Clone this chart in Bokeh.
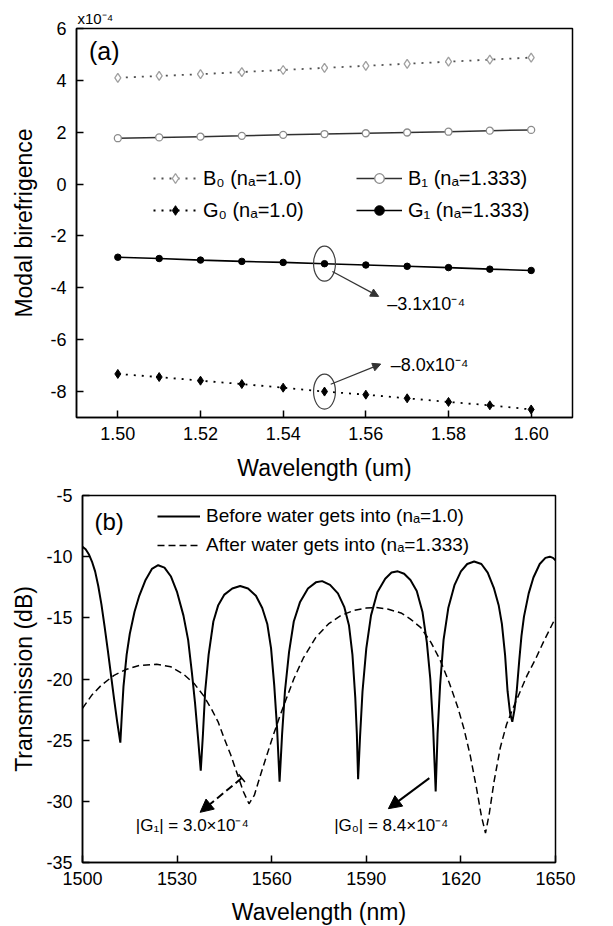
from bokeh.plotting import figure
from bokeh.models import (Range1d, FixedTicker, NumeralTickFormatter, Legend, LegendItem,
                          Label, Arrow, NormalHead, TeeHead, Spacer)
from bokeh.layouts import column, row
from bokeh.embed import file_html
from bokeh.resources import INLINE

FONT = "Liberation Sans"

# ---------------- Panel (a) data ----------------
wavelength_um = [1.50, 1.51, 1.52, 1.53, 1.54, 1.55, 1.56, 1.57, 1.58, 1.59, 1.60]
B0 = [4.10, 4.17, 4.24, 4.32, 4.40, 4.48, 4.56, 4.64, 4.72, 4.80, 4.88]
B1 = [1.77, 1.80, 1.83, 1.86, 1.90, 1.93, 1.96, 1.99, 2.02, 2.06, 2.09]
G0 = [-7.32, -7.44, -7.58, -7.71, -7.85, -8.00, -8.12, -8.26, -8.40, -8.53, -8.69]
G1 = [-2.82, -2.87, -2.93, -2.98, -3.02, -3.07, -3.12, -3.17, -3.22, -3.28, -3.33]
xticks_a = [1.50, 1.52, 1.54, 1.56, 1.58, 1.60]
yticks_a = [-8, -6, -4, -2, 0, 2, 4, 6]

# ---------------- Panel (b) data ----------------
wl_before = [
    1500.0, 1501.0, 1502.0, 1503.0, 1504.0, 1505.0, 1506.0, 1507.0, 1508.0, 1509.0, 1510.0, 1511.0, 1512.0,
    1512.5, 1513.0, 1514.0, 1515.0, 1516.5, 1518.0, 1520.0, 1522.0, 1524.0, 1526.0, 1528.0, 1530.0, 1532.0,
    1533.5, 1534.7, 1535.7, 1536.7, 1537.5,
    1538.2, 1538.9, 1540.0, 1541.5, 1543.0, 1545.0, 1547.5, 1550.0, 1552.5, 1555.0, 1557.0, 1558.6, 1559.8,
    1560.8, 1561.7, 1562.5,
    1563.3, 1564.2, 1565.5, 1567.0, 1569.0, 1571.5, 1574.0, 1576.0, 1578.5, 1581.0, 1583.0, 1584.5, 1585.6,
    1586.5, 1587.0, 1587.4,
    1588.0, 1588.8, 1590.0, 1591.5, 1593.5, 1596.0, 1598.0, 1600.0, 1602.0, 1604.0, 1606.0, 1607.8, 1609.2,
    1610.3, 1611.2, 1612.0,
    1612.6, 1613.4, 1614.5, 1616.0, 1618.0, 1620.0, 1622.0, 1624.2, 1626.5, 1628.5, 1630.5, 1632.0, 1633.0,
    1634.0, 1634.8, 1635.6, 1636.3,
    1637.0, 1637.7, 1638.5, 1639.2, 1640.0, 1641.5, 1643.0, 1645.0, 1646.8, 1648.2, 1649.2, 1650.0]
tr_before = [
    -9.2, -9.4, -9.8, -10.4, -11.2, -12.4, -13.9, -15.7, -17.6, -19.6, -21.6, -23.5, -25.2,
    -22.8, -20.6, -18.0, -16.3, -14.5, -13.2, -11.9, -11.0, -10.7, -10.9, -11.6, -12.9, -14.8,
    -16.8, -19.5, -22.0, -25.0, -27.5,
    -24.5, -21.0, -18.0, -15.3, -14.0, -13.1, -12.6, -12.4, -12.6, -13.2, -14.2, -15.5, -17.5,
    -20.5, -24.0, -28.4,
    -24.5, -21.0, -17.8, -15.3, -13.7, -12.6, -12.1, -12.0, -12.3, -13.0, -14.1, -15.6, -18.0,
    -21.5, -24.5, -28.2,
    -24.8, -21.0, -17.5, -14.8, -12.9, -11.8, -11.3, -11.2, -11.4, -11.9, -12.8, -14.5, -17.0,
    -20.0, -24.0, -29.2,
    -24.5, -20.5, -16.8, -14.2, -12.3, -11.2, -10.6, -10.4, -10.6, -11.3, -12.6, -14.0, -15.5,
    -18.0, -21.0, -22.8, -23.5,
    -22.5, -21.0, -18.5, -16.5, -14.9, -13.0, -11.7, -10.6, -10.1, -10.0, -10.1, -10.3]
wl_after = [
    1500, 1503, 1506, 1510, 1514, 1518, 1523.5, 1528, 1532, 1535.5,
    1538.5, 1541, 1543, 1545, 1547, 1549, 1551, 1552.8, 1554.5, 1556.5,
    1558.5, 1560.5, 1562.5, 1564.5, 1567, 1570, 1574, 1578, 1582, 1586,
    1590, 1593, 1597, 1601, 1604, 1607.3, 1610.5, 1613.5, 1616.3, 1619,
    1621, 1623, 1625, 1626.5, 1627.8, 1629, 1630.5, 1632.5, 1634.5, 1636.5,
    1638.5, 1641, 1643.8, 1646.5, 1650]
tr_after = [
    -22.4, -21.3, -20.5, -19.7, -19.2, -18.9, -18.8, -19.0, -19.6, -20.4,
    -21.4, -22.5, -23.5, -24.9, -26.2, -27.7, -29.2, -30.2, -29.5, -27.8,
    -26.2, -24.6, -23.1, -21.7, -20.0, -18.3, -16.6, -15.5, -14.8, -14.4,
    -14.2, -14.15, -14.3, -14.6, -15.1, -15.8, -17.0, -18.5, -20.3, -22.3,
    -24.1, -26.3, -29.0, -31.2, -32.6, -31.0, -28.4, -25.6, -23.7, -22.4,
    -21.2, -19.7, -18.3, -16.8, -15.0]
xticks_b = [1500, 1530, 1560, 1590, 1620, 1650]
yticks_b = [-35, -30, -25, -20, -15, -10, -5]


def style(p, xticks, yticks, tick_size="18px"):
    p.xgrid.visible = False
    p.ygrid.visible = False
    p.outline_line_color = "black"
    p.outline_line_width = 1.5
    p.outline_line_alpha = 1.0
    for ax in (p.xaxis[0], p.yaxis[0]):
        ax.axis_line_color = "black"
        ax.axis_line_width = 1.5
        ax.major_tick_in = 7
        ax.major_tick_out = 0
        ax.major_tick_line_color = "black"
        ax.major_tick_line_width = 1.5
        ax.minor_tick_line_color = None
        ax.major_label_text_font = FONT
        ax.major_label_text_font_size = tick_size
        ax.major_label_text_color = "black"
        ax.axis_label_text_font = FONT
        ax.axis_label_text_font_size = "23px"
        ax.axis_label_text_font_style = "normal"
        ax.axis_label_text_color = "black"
    p.xaxis.ticker = FixedTicker(ticks=xticks)
    p.yaxis.ticker = FixedTicker(ticks=yticks)
    p.yaxis.major_label_overrides = {t: str(t) for t in yticks}


def legend(items, loc, size, h, spacing, gw):
    return Legend(items=items, location=loc, padding=0, margin=0, spacing=spacing,
                  glyph_width=gw, glyph_height=h, label_height=h, label_standoff=6,
                  label_text_font=FONT, label_text_font_size=size, label_text_color="black",
                  border_line_alpha=0, background_fill_alpha=0)


# ================= Panel (a) =================
pa = figure(x_range=Range1d(1.49, 1.61), y_range=Range1d(-9, 6),
            frame_width=496, frame_height=389,
            min_border_left=76, min_border_right=25, min_border_top=28, min_border_bottom=66,
            x_axis_label="Wavelength (um)", y_axis_label="Modal birefrigence",
            output_backend="svg", toolbar_location=None)
style(pa, xticks_a, yticks_a)
pa.xaxis.formatter = NumeralTickFormatter(format="0.00")
pa.xaxis.major_label_standoff = 9
pa.xaxis.axis_label_standoff = 12
pa.yaxis.major_label_standoff = 10
pa.yaxis.axis_label_standoff = 10
# the exponent written above the frame
pa.title.text = "x10⁻⁴"
pa.title.align = "left"
pa.title.offset = 1
pa.title.standoff = 4
pa.title.text_font = FONT
pa.title.text_font_size = "15px"
pa.title.text_font_style = "normal"
pa.title.text_color = "black"

rB0l = pa.line(wavelength_um, B0, line_color="#505050", line_width=1.8, line_dash="2 6")
rB0s = pa.scatter(wavelength_um, B0, marker="diamond", size=9, fill_color="white",
                  line_color="#a0a0a0", line_width=1.3)
rB1l = pa.line(wavelength_um, B1, line_color="#303030", line_width=1.5)
rB1s = pa.scatter(wavelength_um, B1, marker="circle", size=7, fill_color="white",
                  line_color="#8c8c8c", line_width=1.3)
rG0l = pa.line(wavelength_um, G0, line_color="black", line_width=1.8, line_dash="2 6")
rG0s = pa.scatter(wavelength_um, G0, marker="diamond", size=9, fill_color="black", line_color="black")
rG1l = pa.line(wavelength_um, G1, line_color="black", line_width=1.6)
rG1s = pa.scatter(wavelength_um, G1, marker="circle", size=6.5, fill_color="black", line_color="black")

pa.add_layout(legend([LegendItem(label="B₀ (nₐ=1.0)", renderers=[rB0l, rB0s]),
                      LegendItem(label="G₀ (nₐ=1.0)", renderers=[rG0l, rG0s])],
                     (77, 195), "20px", 24, 8, 44))
pa.add_layout(legend([LegendItem(label="B₁ (nₐ=1.333)", renderers=[rB1l, rB1s]),
                      LegendItem(label="G₁ (nₐ=1.333)", renderers=[rG1l, rG1s])],
                     (280, 195), "20px", 24, 8, 46))

# circled points at 1.55 um
pa.ellipse(x=[wavelength_um[5], wavelength_um[5]], y=[G1[5], G0[5]], width=0.0053, height=1.35,
           fill_alpha=0, line_color="#404040", line_width=1.2)
pa.add_layout(Arrow(end=NormalHead(size=8, fill_color="#333333", line_color="#333333"),
                    x_start=1.5519, y_start=-3.37, x_end=1.5631, y_end=-4.33,
                    line_color="#333333", line_width=1.2))
pa.add_layout(Arrow(end=NormalHead(size=8, fill_color="#333333", line_color="#333333"),
                    x_start=1.5515, y_start=-7.72, x_end=1.5636, y_end=-6.94,
                    line_color="#333333", line_width=1.2))
pa.add_layout(Label(x=1.5652, y=-4.64, text="–3.1x10⁻⁴", text_font=FONT, text_font_size="18px",
                    text_baseline="middle", text_color="black"))
pa.add_layout(Label(x=1.5660, y=-6.97, text="–8.0x10⁻⁴", text_font=FONT, text_font_size="18px",
                    text_baseline="middle", text_color="black"))
pa.add_layout(Label(x=1.4930, y=5.15, text="(a)", text_font=FONT, text_font_size="25px",
                    text_baseline="middle", text_color="black"))

# ================= Panel (b) =================
pb = figure(x_range=Range1d(1500, 1650), y_range=Range1d(-35, -5),
            frame_width=473, frame_height=367,
            min_border_left=76, min_border_right=40, min_border_top=12, min_border_bottom=0,
            x_axis_label="Wavelength (nm)", y_axis_label="Transmission (dB)",
            output_backend="svg", toolbar_location=None)
style(pb, xticks_b, yticks_b)
pb.xaxis.major_label_standoff = 9
pb.xaxis.axis_label_standoff = 11
pb.yaxis.major_label_standoff = 10
pb.yaxis.axis_label_standoff = 6

r_before = pb.line(wl_before, tr_before, line_color="black", line_width=2)
r_after = pb.line(wl_after, tr_after, line_color="black", line_width=1.5, line_dash="7 4")

pb.add_layout(legend([LegendItem(label="Before water gets into (nₐ=1.0)", renderers=[r_before]),
                      LegendItem(label="After water gets into (nₐ=1.333)", renderers=[r_after])],
                     (75, 306), "19px", 22, 7, 43))

pb.add_layout(Arrow(end=NormalHead(size=13, fill_color="black", line_color="black"),
                    start=TeeHead(size=10, line_color="black", line_width=1.5),
                    x_start=1550.5, y_start=-28.1, x_end=1537.3, y_end=-30.9,
                    line_color="black", line_width=2, line_dash="8 4"))
pb.add_layout(Arrow(end=NormalHead(size=13, fill_color="black", line_color="black"),
                    x_start=1610.0, y_start=-28.1, x_end=1597.0, y_end=-30.6,
                    line_color="black", line_width=2))
pb.add_layout(Label(x=1516.9, y=-32.0, text="|G₁| = 3.0×10⁻⁴", text_font=FONT, text_font_size="17px",
                    text_baseline="middle", text_color="black"))
pb.add_layout(Label(x=1579.8, y=-32.0, text="|G₀| = 8.4×10⁻⁴", text_font=FONT, text_font_size="17px",
                    text_baseline="middle", text_color="black"))
pb.add_layout(Label(x=1503.8, y=-7.1, text="(b)", text_font=FONT, text_font_size="24px",
                    text_baseline="middle", text_color="black"))

layout = column(pa, row(Spacer(width=6), pb))
open("out.html", "w").write(file_html(layout, INLINE))
